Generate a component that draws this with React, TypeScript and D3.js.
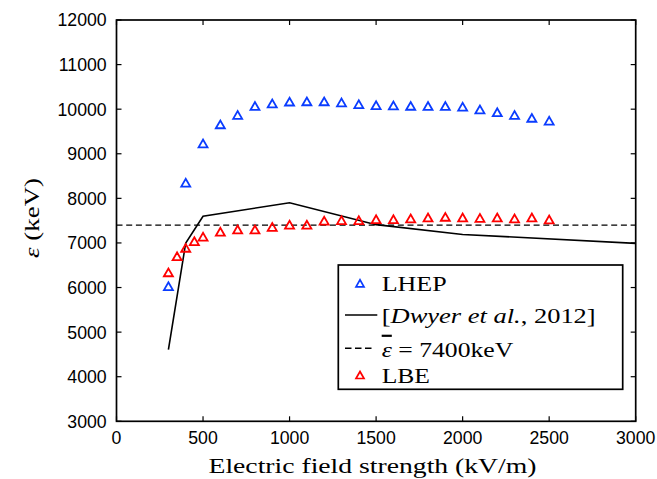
import React from 'react';
import * as d3 from 'd3';

// LHEP (blue triangles)
const lhepField = [300, 400, 500, 600, 700, 800, 900, 1000, 1100, 1200, 1300, 1400, 1500, 1600, 1700, 1800, 1900, 2000, 2100, 2200, 2300, 2400, 2500];
const lhepEnergy = [6030, 8350, 9230, 9660, 9870, 10070, 10130, 10170, 10175, 10175, 10150, 10110, 10090, 10085, 10075, 10070, 10070, 10055, 9995, 9930, 9870, 9805, 9740];

// LBE (red triangles)
const lbeField = [300, 350, 400, 450, 500, 600, 700, 800, 900, 1000, 1100, 1200, 1300, 1400, 1500, 1600, 1700, 1800, 1900, 2000, 2100, 2200, 2300, 2400, 2500];
const lbeEnergy = [6340, 6700, 6890, 7040, 7140, 7250, 7300, 7300, 7360, 7410, 7410, 7500, 7510, 7510, 7530, 7530, 7550, 7570, 7585, 7570, 7560, 7570, 7550, 7570, 7525];

// [Dwyer et al., 2012] curve
const dwyerField = [300, 400, 500, 1000, 1500, 2000, 3000];
const dwyerEnergy = [4610, 7000, 7600, 7900, 7410, 7190, 6990];

const meanEnergy = 7400;

const xTicks = [0, 500, 1000, 1500, 2000, 2500, 3000];
const yTicks = [3000, 4000, 5000, 6000, 7000, 8000, 9000, 10000, 11000, 12000];

const BLUE = '#0a3cff';
const RED = '#ff0000';
const SERIF = '"Liberation Serif", "DejaVu Serif", serif';
const SANS = '"Liberation Sans", Arial, Helvetica, sans-serif';

// MATLAB-style '^' marker, centred on its bounding box
const tri = (cx: number, cy: number, w = 9, h = 7.8) =>
  `M${cx - w / 2},${cy + h / 2}L${cx},${cy - h / 2}L${cx + w / 2},${cy + h / 2}Z`;

export default function App() {
  const width = 657;
  const height = 479;
  const left = 116.5, right = 635.7, top = 20, bottom = 421.3;

  const x = d3.scaleLinear().domain([0, 3000]).range([left, right]);
  const y = d3.scaleLinear().domain([3000, 12000]).range([bottom, top]);

  const dwyerLine = d3.line<number>()
    .x((_, i) => x(dwyerField[i]))
    .y(d => y(d))(dwyerEnergy) || '';

  const tickLen = 5;
  const serifText = { fontFamily: SERIF, fontSize: 22, fill: '#000', lengthAdjust: 'spacingAndGlyphs' as const };

  return (
    <svg width={width} height={height} style={{ position: 'absolute', left: 0, top: 0, background: '#fff' }}>
      <rect x={0} y={0} width={width} height={height} fill="#fff" />

      {/* dashed mean line */}
      <line x1={left} x2={right} y1={y(meanEnergy)} y2={y(meanEnergy)}
        stroke="#000" strokeWidth={1.4} strokeDasharray="6,3.7" />

      {/* Dwyer curve */}
      <path d={dwyerLine} fill="none" stroke="#000" strokeWidth={1.6} />

      {/* LHEP markers */}
      {lhepField.map((f, i) => (
        <path key={'b' + i} d={tri(x(f), y(lhepEnergy[i]))} fill="none" stroke={BLUE} strokeWidth={1.8} />
      ))}
      {/* LBE markers */}
      {lbeField.map((f, i) => (
        <path key={'r' + i} d={tri(x(f), y(lbeEnergy[i]))} fill="none" stroke={RED} strokeWidth={1.8} />
      ))}

      {/* axes box */}
      <rect x={left} y={top} width={right - left} height={bottom - top} fill="none" stroke="#000" strokeWidth={1.7} />

      {/* x ticks (bottom and top, inward) */}
      {xTicks.map(t => (
        <g key={'xt' + t}>
          <line x1={x(t)} x2={x(t)} y1={bottom} y2={bottom - tickLen} stroke="#000" strokeWidth={1.2} />
          <line x1={x(t)} x2={x(t)} y1={top} y2={top + tickLen} stroke="#000" strokeWidth={1.2} />
          <text x={x(t)} y={444} textAnchor="middle" fontFamily={SANS} fontSize={17.7} fill="#000">{t}</text>
        </g>
      ))}

      {/* y ticks (left and right, inward) */}
      {yTicks.map(t => (
        <g key={'yt' + t}>
          <line x1={left} x2={left + tickLen} y1={y(t)} y2={y(t)} stroke="#000" strokeWidth={1.2} />
          <line x1={right} x2={right - tickLen} y1={y(t)} y2={y(t)} stroke="#000" strokeWidth={1.2} />
          <text x={106.7} y={y(t) + 6.4} textAnchor="end" fontFamily={SANS} fontSize={17.7} fill="#000">{t}</text>
        </g>
      ))}

      {/* axis labels */}
      <text x={372.5} y={473.3} textAnchor="middle" {...serifText} textLength={328}>Electric field strength (kV/m)</text>
      <text transform="translate(39,218) rotate(-90)" textAnchor="middle" {...serifText} textLength={80}>
        <tspan fontStyle="italic">ε</tspan> (keV)
      </text>

      {/* legend */}
      <g>
        <rect x={338.3} y={265} width={284.4} height={124.3} fill="#fff" stroke="#000" strokeWidth={1.7} />
        <path d={tri(360, 283.3, 8, 7)} fill="none" stroke={BLUE} strokeWidth={1.7} />
        <text x={381.7} y={290.7} {...serifText} textLength={65}>LHEP</text>

        <line x1={345} x2={377.3} y1={315} y2={315} stroke="#000" strokeWidth={1.6} />
        <text x={381.7} y={322.7} {...serifText} textLength={214}>
          [<tspan fontStyle="italic">Dwyer et al.</tspan>, 2012]
        </text>

        <line x1={345} x2={372} y1={348.3} y2={348.3} stroke="#000" strokeWidth={1.4} strokeDasharray="6.5,3.5" />
        <text x={381.7} y={356.7} {...serifText} textLength={131.6}>
          <tspan fontStyle="italic" textDecoration="overline">ε</tspan> = 7400keV
        </text>

        <path d={tri(360, 375, 8, 7)} fill="none" stroke={RED} strokeWidth={1.7} />
        <text x={381.7} y={383.3} {...serifText} textLength={48.3}>LBE</text>
      </g>
    </svg>
  );
}
